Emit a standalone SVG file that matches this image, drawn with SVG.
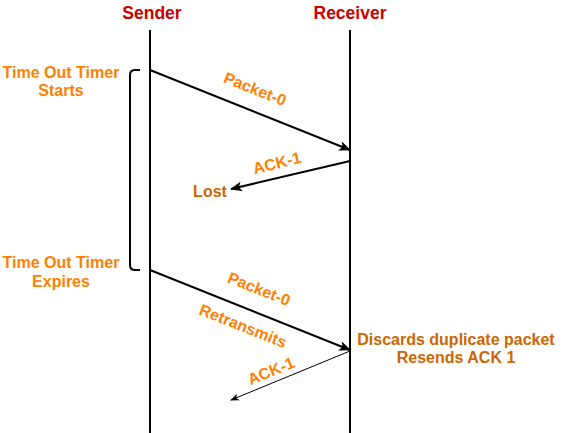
<svg xmlns="http://www.w3.org/2000/svg" width="566" height="433" viewBox="0 0 566 433">
<defs>
<style>
text{font-family:"Liberation Sans",Arial,sans-serif;font-weight:bold;font-size:16px;text-anchor:middle}
.hd{fill:#CC0000;font-size:17.5px}
.or{fill:#FF8000}
.dk{fill:#CC6600}
.ln{stroke:#000;fill:none}
</style>
<marker id="ah" markerUnits="userSpaceOnUse" markerWidth="12" markerHeight="10" refX="11" refY="5" orient="auto" viewBox="0 0 12 10">
<path d="M0,0 L12,5 L0,10 L3,5 z" fill="#000"/>
</marker>
<marker id="ahs" markerUnits="userSpaceOnUse" markerWidth="9" markerHeight="8" refX="8" refY="4" orient="auto" viewBox="0 0 9 8">
<path d="M0,0.5 L9,4 L0,7.5 L2.5,4 z" fill="#000"/>
</marker>
</defs>
<rect width="566" height="433" fill="#fff"/>
<g id="sender">
<text class="hd" x="152" y="19">Sender</text>
<line class="ln" x1="150" y1="30" x2="150" y2="433" stroke-width="2"/>
</g>
<g id="receiver">
<text class="hd" x="350" y="19">Receiver</text>
<line class="ln" x1="350" y1="30" x2="350" y2="433" stroke-width="2"/>
</g>
<g id="timer">
<path class="ln" stroke-width="2" d="M140,70 L135,70 Q130,70 130,75 L130,265 Q130,270 135,270 L140,270"/>
<text class="or" x="61" y="78">Time Out Timer</text>
<text class="or" x="61" y="96">Starts</text>
<text class="or" x="61" y="268">Time Out Timer</text>
<text class="or" x="61" y="287">Expires</text>
</g>
<g id="connectors">
<line class="ln" stroke-width="2" x1="150" y1="70" x2="350" y2="150" marker-end="url(#ah)"/>
<line class="ln" stroke-width="2" x1="350" y1="161" x2="231" y2="189" marker-end="url(#ah)"/>
<line class="ln" stroke-width="2" x1="150" y1="270" x2="350" y2="350" marker-end="url(#ah)"/>
<line class="ln" stroke-width="1" x1="350" y1="351" x2="231" y2="400" marker-end="url(#ahs)"/>
</g>
<g id="labels">
<text class="or" transform="translate(255,89) rotate(21.8)" y="5.5">Packet-0</text>
<text class="or" transform="translate(277,163) rotate(-14)" y="5.5">ACK-1</text>
<text class="dk" x="210" y="197">Lost</text>
<text class="or" transform="translate(259,289) rotate(21.8)" y="5.5">Packet-0</text>
<text class="or" transform="translate(243,326) rotate(21.8)" y="5.5">Retransmits</text>
<text class="or" transform="translate(271,371) rotate(-22)" y="5.5">ACK-1</text>
<text class="dk" x="456" y="345">Discards duplicate packet</text>
<text class="dk" x="456" y="363">Resends ACK 1</text>
</g>
</svg>
